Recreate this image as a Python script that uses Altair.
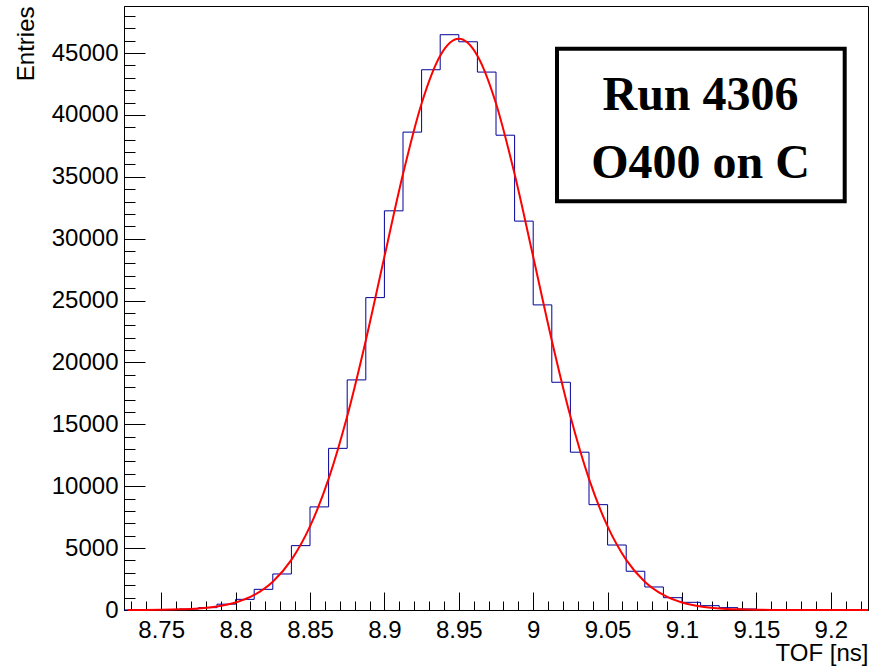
import altair as alt
import pandas as pd

# ---- data ----
bin_edges = [8.725, 8.7375, 8.75, 8.7625, 8.775, 8.7875, 8.8, 8.8125, 8.825, 8.8375,
             8.85, 8.8625, 8.875, 8.8875, 8.9, 8.9125, 8.925, 8.9375, 8.95, 8.9625,
             8.975, 8.9875, 9.0, 9.0125, 9.025, 9.0375, 9.05, 9.0625, 9.075, 9.0875,
             9.1, 9.1125, 9.125, 9.1375, 9.15, 9.1625, 9.175, 9.1875, 9.2, 9.2125, 9.225]
counts = [5, 10, 30, 80, 190, 470, 860, 1670, 2910, 5200,
          8330, 13060, 18590, 25240, 32250, 38610, 43650, 46480, 45910, 43460,
          38360, 31420, 24650, 18400, 12750, 8510, 5250, 3130, 1860, 995,
          620, 350, 190, 80, 40, 40, 40, 40, 0, 0]

fit_x = [8.7275, 8.7375, 8.75, 8.7625, 8.775, 8.7875, 8.8, 8.8125, 8.825, 8.8375,
         8.85, 8.8625, 8.875, 8.8875, 8.9, 8.9125, 8.925, 8.9375, 8.95, 8.9625,
         8.975, 8.9875, 9.0, 9.0125, 9.025, 9.0375, 9.05, 9.0625, 9.075, 9.0875,
         9.1, 9.1125, 9.125, 9.1375, 9.15, 9.1625, 9.175, 9.1875, 9.2, 9.225]
fit_y = [4, 8, 21, 54, 128, 288, 611, 1218, 2290, 4052,
         6752, 10590, 15650, 21780, 28540, 35220, 40925, 44785, 46150, 44785,
         40925, 35220, 28540, 21780, 15650, 10590, 6752, 4052, 2290, 1218,
         611, 288, 128, 54, 21, 8, 3, 1, 0, 0]

x_major = [8.75, 8.8, 8.85, 8.9, 8.95, 9.0, 9.05, 9.1, 9.15, 9.2]
x_minor = [round(8.73 + 0.01 * i, 2) for i in range(50)]
y_major = [0, 5000, 10000, 15000, 20000, 25000, 30000, 35000, 40000, 45000]
y_minor = [1000 * i for i in range(49)]

annotation_lines = ["Run 4306", "O400 on C"]
x_title = "TOF [ns]"
y_title = "Entries"

# ---- tables ----
hist_df = pd.DataFrame({"tof": bin_edges, "entries": counts + [counts[-1]]})
fit_df = pd.DataFrame({"tof": fit_x, "entries": fit_y})

W, H = 744, 604
FONT = "Liberation Sans"

xscale = alt.Scale(domain=[8.725, 9.225], nice=False, zero=False)
yscale = alt.Scale(domain=[0, 48800], nice=False, zero=True)

common_tick = dict(labels=False, domain=False, ticks=True, tickColor="black",
                   tickWidth=1, title=None, grid=False)

x_label_axis = alt.Axis(orient="bottom", values=x_major, format="~g", ticks=False,
                        tickSize=0, domain=True, domainColor="black", domainWidth=1,
                        labelFont=FONT, labelFontSize=24, labelColor="black",
                        labelPadding=8, labelFlush=False, labelOverlap=False,
                        labelBound=False, grid=False,
                        title=x_title, titleX=W, titleY=50, titleAlign="right",
                        titleBaseline="alphabetic", titleFont=FONT, titleFontSize=24,
                        titleFontWeight="normal", titleColor="black")
y_label_axis = alt.Axis(orient="left", values=y_major, format="d", ticks=False,
                        tickSize=0, domain=True, domainColor="black", domainWidth=1,
                        labelFont=FONT, labelFontSize=24, labelColor="black",
                        labelPadding=6, labelFlush=False, labelOverlap=False,
                        labelBound=False, grid=False,
                        title=y_title, titleX=-91, titleY=0, titleAngle=270,
                        titleAlign="right", titleBaseline="alphabetic", titleFont=FONT,
                        titleFontSize=24, titleFontWeight="normal", titleColor="black")

x_major_axis = alt.Axis(orient="top", offset=-H, values=x_major, tickSize=18, **common_tick)
x_minor_axis = alt.Axis(orient="top", offset=-H, values=x_minor, tickSize=9, **common_tick)
y_major_axis = alt.Axis(orient="right", offset=-W, values=y_major, tickSize=21, **common_tick)
y_minor_axis = alt.Axis(orient="right", offset=-W, values=y_minor, tickSize=11, **common_tick)

ghost = alt.Chart(hist_df).mark_line(strokeOpacity=0).encode(
    x=alt.X("tof:Q", scale=xscale, axis=x_minor_axis),
    y=alt.Y("entries:Q", scale=yscale, axis=y_minor_axis),
)

hist = alt.Chart(hist_df).mark_line(interpolate="step-after", color="#000099",
                                    strokeWidth=1).encode(
    x=alt.X("tof:Q", scale=xscale, axis=x_label_axis),
    y=alt.Y("entries:Q", scale=yscale, axis=y_label_axis),
)

fit = alt.Chart(fit_df).mark_line(interpolate="monotone", color="#ff0000",
                                  strokeWidth=2).encode(
    x=alt.X("tof:Q", scale=xscale, axis=x_major_axis),
    y=alt.Y("entries:Q", scale=yscale, axis=y_major_axis),
)

box = alt.Chart(pd.DataFrame({"a": [0]})).mark_rect(
    fill="white", stroke="black", strokeWidth=4).encode(
    x=alt.value(433), x2=alt.value(720.7), y=alt.value(42.7), y2=alt.value(195.3))

line1 = alt.Chart(pd.DataFrame({"a": [0]})).mark_text(
    font="Liberation Serif", fontSize=48, fontWeight="bold", color="black",
    align="center", baseline="alphabetic").encode(
    x=alt.value(576.5), y=alt.value(104), text=alt.value(annotation_lines[0]))
line2 = alt.Chart(pd.DataFrame({"a": [0]})).mark_text(
    font="Liberation Serif", fontSize=48, fontWeight="bold", color="black",
    align="center", baseline="alphabetic").encode(
    x=alt.value(576.5), y=alt.value(172), text=alt.value(annotation_lines[1]))

chart = alt.layer(ghost, hist, fit, box, line1, line2).resolve_axis(
    x="independent", y="independent"
).properties(
    width=W, height=H,
    autosize=alt.AutoSizeParams(type="none"),
    padding={"left": 124, "top": 6, "right": 1, "bottom": 56},
    background="white",
).configure_view(stroke="black", strokeWidth=1)

chart.save("out.html", embed_options={"renderer": "svg", "actions": False})
